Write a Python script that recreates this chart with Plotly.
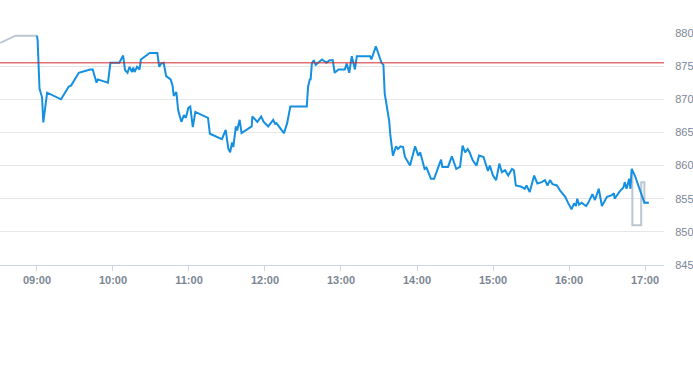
import plotly.graph_objects as go

DAY = "2024-01-02 "

pre_times = ["08:31", "08:43", "08:59", "09:00"]
pre_values = [878.5, 879.6, 879.6, 879.6]

blue_times = [
    "09:00:00", "09:00:30", "09:02", "09:04", "09:05", "09:08", "09:19", "09:25", "09:27", "09:33",
    "09:42", "09:44", "09:47", "09:48", "09:56", "09:58", "10:05", "10:08", "10:09:30", "10:11:30",
    "10:13", "10:15", "10:16", "10:17", "10:19", "10:21", "10:22", "10:29", "10:35", "10:36:30",
    "10:38", "10:40", "10:42", "10:45:30", "10:47", "10:48", "10:50", "10:51:30", "10:54", "10:56",
    "10:57:30", "10:59:30", "11:01", "11:03", "11:05", "11:15", "11:16:30", "11:26", "11:29", "11:31",
    "11:32:30", "11:34", "11:35", "11:37", "11:38", "11:40", "11:41:30", "11:49:30", "11:50", "11:54",
    "11:57", "11:59", "12:02:30", "12:06:30", "12:08", "12:09", "12:15", "12:17:30", "12:20", "12:33",
    "12:34", "12:35:30", "12:36", "12:37", "12:38:30", "12:40", "12:42", "12:45", "12:48:30", "12:51",
    "12:53:30", "12:55", "12:58", "13:03", "13:04:30", "13:06:30", "13:08:30", "13:11", "13:12:30", "13:23",
    "13:24", "13:27:30", "13:32", "13:33:30", "13:34:30", "13:38", "13:39", "13:41", "13:43:30", "13:45",
    "13:47", "13:49", "13:50:30", "13:54:30", "13:58:30", "14:01", "14:02:30", "14:04:30", "14:06", "14:07:30",
    "14:11", "14:13:30", "14:17", "14:19", "14:20", "14:24:30", "14:27:30", "14:31", "14:34", "14:36",
    "14:38", "14:40", "14:41:30", "14:44", "14:47", "14:49", "14:52:30", "14:55", "14:56", "14:57:30",
    "15:00", "15:02:30", "15:05", "15:07", "15:09:30", "15:12", "15:15", "15:16:30", "15:18", "15:22:30",
    "15:25", "15:26:30", "15:29", "15:32:30", "15:35", "15:38:30", "15:41", "15:43", "15:45", "15:47",
    "15:50:30", "15:53", "15:57", "15:59:30", "16:02", "16:04", "16:05:30", "16:06:30", "16:08", "16:10",
    "16:13:30", "16:15", "16:18:30", "16:20:30", "16:23:30", "16:26", "16:30", "16:33:30", "16:35:30", "16:36",
    "16:40", "16:43", "16:44", "16:45:30", "16:47:30", "16:48:30", "16:49:30", "16:52", "16:56", "16:59:30",
    "17:03",
]
blue_values = [
    879.6, 878.9, 871.6, 870.3, 866.5, 871.0, 870.0, 871.9, 872.1, 874.0,
    874.5, 874.5, 872.5, 873.0, 872.5, 875.5, 875.5, 876.6, 874.4, 874.0,
    874.9, 874.1, 874.8, 874.1, 874.9, 874.5, 876.0, 877.0, 877.0, 874.9,
    875.4, 875.5, 873.5, 873.0, 872.1, 870.5, 871.1, 868.3, 866.6, 867.6,
    867.2, 868.7, 868.9, 865.8, 868.1, 867.2, 864.8, 864.0, 865.4, 862.6,
    862.0, 863.5, 862.8, 865.9, 865.3, 866.9, 864.9, 865.9, 867.4, 866.6,
    867.4, 866.6, 865.9, 866.9, 866.3, 866.4, 864.9, 866.4, 868.9, 868.9,
    871.9, 873.1, 872.9, 875.4, 875.9, 875.2, 875.5, 876.0, 875.5, 875.9,
    875.9, 874.0, 874.5, 874.5, 875.4, 874.0, 876.5, 874.5, 876.5, 876.5,
    876.0, 878.0, 875.5, 875.2, 870.9, 866.8, 864.5, 861.5, 862.9, 862.5,
    862.9, 862.8, 861.3, 860.0, 862.9, 861.5, 862.0, 860.3, 859.5, 859.7,
    858.0, 858.0, 859.8, 860.9, 859.8, 859.8, 861.4, 859.5, 859.8, 863.0,
    862.0, 862.5, 862.0, 860.8, 860.0, 861.5, 861.3, 859.8, 859.2, 860.0,
    858.5, 857.8, 860.3, 859.0, 859.3, 858.5, 859.5, 859.3, 857.0, 856.8,
    856.5, 857.0, 856.0, 858.5, 857.3, 857.5, 857.8, 857.0, 857.8, 857.2,
    857.0, 856.2, 855.3, 854.3, 853.4, 854.3, 853.9, 855.0, 854.1, 854.4,
    853.9, 854.3, 855.7, 854.8, 856.5, 853.9, 855.3, 855.5, 855.8, 855.0,
    856.1, 856.7, 857.5, 856.5, 858.0, 856.5, 859.5, 858.5, 856.2, 854.4,
    854.4,
]

post_times = ["16:49:30", "16:50", "16:50:01", "16:57", "16:57:01", "16:59:30", "16:59:31", "17:03"]
post_values = [859.5, 859.3, 851.0, 851.0, 857.5, 857.5, 854.4, 854.4]

reference_level = 875.5

y_ticks = [845, 850, 855, 860, 865, 870, 875, 880]
x_tick_labels = ["09:00", "10:00", "11:00", "12:00", "13:00", "14:00", "15:00", "16:00", "17:00"]

fig = go.Figure()
fig.add_trace(go.Scatter(
    x=[DAY + t for t in pre_times], y=pre_values, mode="lines",
    line=dict(color="#bcc6d1", width=2), hoverinfo="skip", showlegend=False,
))
fig.add_trace(go.Scatter(
    x=[DAY + t for t in post_times], y=post_values, mode="lines",
    line=dict(color="#bcc6d1", width=2), hoverinfo="skip", showlegend=False,
))
fig.add_trace(go.Scatter(
    x=[DAY + t for t in blue_times], y=blue_values, mode="lines",
    line=dict(color="#158fe0", width=2), showlegend=False,
))
fig.add_hline(y=reference_level, line=dict(color="#d0282a", width=1))

fig.update_layout(
    width=693, height=365,
    margin=dict(l=0, r=29, t=33, b=100),
    paper_bgcolor="white", plot_bgcolor="white",
    font=dict(family="Liberation Sans, Arial, sans-serif", size=11, color="#6f7a88"),
    xaxis=dict(
        type="date", automargin=False,
        range=[DAY + "08:30:48", DAY + "17:15"],
        tickvals=[DAY + t for t in x_tick_labels],
        ticktext=["<b>%s</b>" % t for t in x_tick_labels],
        showgrid=False, zeroline=False,
        showline=True, linecolor="#ccd6eb", linewidth=1,
        ticks="outside", ticklen=5, tickcolor="#ccd6eb",
        tickfont=dict(size=11, color="#7b8694"),
    ),
    yaxis=dict(
        side="right", range=[845, 880], automargin=False,
        tickvals=y_ticks,
        showgrid=True, gridcolor="#e6e6e6", gridwidth=1,
        zeroline=False, showline=False,
        ticks="outside", ticklen=8, tickcolor="rgba(0,0,0,0)",
        tickfont=dict(size=11, color="#7b8694"),
    ),
)

fig.write_html(
    "out.html",
    config={"displayModeBar": False},
    post_script="document.body.style.margin='0';document.body.style.overflow='hidden';",
)
